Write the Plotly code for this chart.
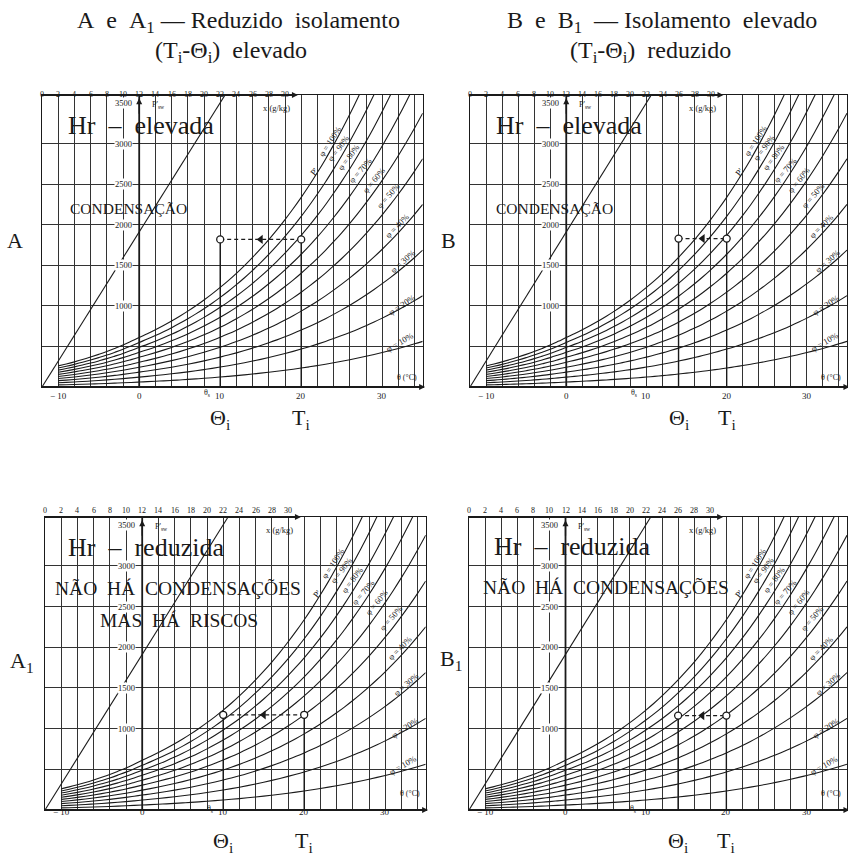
import plotly.graph_objects as go

# ---------------- data ----------------
theta_c = [-10, -9, -8, -7, -6, -5, -4, -3, -2, -1, 0, 1, 2, 3, 4, 5, 6, 7, 8, 9, 10,
           11, 12, 13, 14, 15, 16, 17, 18, 19, 20, 21, 22, 23, 24, 25, 26, 27, 28,
           29, 30, 31, 32, 33, 34, 35]
p_sat = [260, 284, 310, 338, 369, 402, 437, 476, 517, 563, 611, 657, 706, 758, 813,
         872, 935, 1002, 1073, 1148, 1228, 1312, 1402, 1497, 1598, 1705, 1818, 1937,
         2064, 2197, 2338, 2487, 2644, 2809, 2985, 3169, 3363, 3567, 3782, 4008, 4246,
         4495, 4758, 5034, 5323, 5627]
phi_pct = [100, 90, 80, 70, 60, 50, 40, 30, 20, 10]
phi_labels = ["φ = 100%", "φ = 90%", "φ = 80%", "φ = 70%", "φ = 60%",
              "φ = 50%", "φ = 40%", "φ = 30%", "φ = 20%", "φ = 10%"]
mix_P = [0, 3600]          # Pa
mix_x = [0, 22.6]          # g/kg  (x scale starts at theta = -12)
x_ticks_gkg = [0, 2, 4, 6, 8, 10, 12, 14, 16, 18, 20, 22, 24, 26, 28, 30]
theta_ticks = [-10, 0, 10, 20, 30]
p_ticks = [1000, 1500, 2000, 2500, 3000, 3500]

# state points per panel: (Theta_i, T_i, P)
panel_names = ["A", "B", "A1", "B1"]
theta_i = [10, 14, 10, 14]
t_i = [20, 20, 20, 20]
p_state = [1820, 1830, 1170, 1160]

W, H = 848, 856
SERIF = "Liberation Serif, Times New Roman, DejaVu Serif, serif"
INK = "#1a1a1a"


def px(x):
    return x / W


def py(y):
    return 1 - y / H


# panel geometry in pixels: (x0, x1, ytop, ybottom)
geo = [(42, 422.7, 95, 387), (470, 847, 95, 387),
       (45, 425.7, 517, 810), (469, 847, 517, 810)]
XR = [-12, 35]
YR = [0, 3600]

fig = go.Figure()
annotations = []
shapes = []

rh_lab_pos = [(23.6, 3030, -57), (24.6, 2950, -53), (25.9, 2830, -53), (27.3, 2680, -49),
              (29.0, 2550, -51), (30.7, 2360, -49), (31.8, 1990, -45), (32.6, 1550, -42),
              (32.4, 1010, -33), (32.2, 550, -30)]

for k in range(4):
    x0, x1, yt, yb = geo[k]
    xa = "xaxis" if k == 0 else f"xaxis{k+1}"
    ya = "yaxis" if k == 0 else f"yaxis{k+1}"
    xr = "x" if k == 0 else f"x{k+1}"
    yr = "y" if k == 0 else f"y{k+1}"
    fig.layout[xa] = dict(domain=[px(x0), px(x1)], range=XR, anchor=yr,
                          tickmode="linear", tick0=-12, dtick=2, showticklabels=False,
                          ticks="", showgrid=True, gridcolor="#333333", gridwidth=0.9,
                          zeroline=False, showline=True, linecolor=INK, linewidth=1.3,
                          mirror=True, fixedrange=True)
    fig.layout[ya] = dict(domain=[py(yb), py(yt)], range=YR, anchor=xr,
                          tickmode="array", tickvals=[500, 1000, 1500, 2000, 2500, 3000],
                          showticklabels=False, ticks="", showgrid=True,
                          gridcolor="#333333", gridwidth=0.9, zeroline=False,
                          showline=True, linecolor=INK, linewidth=1.3, mirror=True,
                          fixedrange=True)

    # relative humidity curves
    for f in phi_pct:
        fig.add_trace(go.Scatter(x=theta_c, y=[f / 100 * p for p in p_sat], mode="lines",
                                 line=dict(color=INK, width=1.1, shape="spline"),
                                 xaxis=xr, yaxis=yr, hoverinfo="skip", showlegend=False))
    # mixing ratio line
    fig.add_trace(go.Scatter(x=[-12 + v for v in mix_x], y=mix_P, mode="lines",
                             line=dict(color=INK, width=1.1), xaxis=xr, yaxis=yr,
                             hoverinfo="skip", showlegend=False))
    # P axis at theta = 0 (thicker)
    shapes.append(dict(type="line", xref=xr, yref=yr, x0=0, x1=0, y0=0, y1=3600,
                       line=dict(color=INK, width=1.8)))
    # top x (g/kg) axis line
    shapes.append(dict(type="line", xref=xr, yref=yr, x0=-12, x1=19.2, y0=3600, y1=3600,
                       line=dict(color=INK, width=2.2)))
    annotations.append(dict(x=19.6, y=3600, ax=17.5, ay=3600, xref=xr, yref=yr,
                            axref=xr, ayref=yr, text="", showarrow=True, arrowhead=2,
                            arrowsize=1, arrowwidth=1.2, arrowcolor=INK))
    # bottom axis
    shapes.append(dict(type="line", xref=xr, yref=yr, x0=-12, x1=35, y0=0, y1=0,
                       line=dict(color=INK, width=1.8)))
    annotations.append(dict(x=35.3, y=0, ax=33.5, ay=0, xref=xr, yref=yr,
                            axref=xr, ayref=yr, text="", showarrow=True, arrowhead=2,
                            arrowsize=1, arrowwidth=1.2, arrowcolor=INK))
    # P axis arrow
    annotations.append(dict(x=0, y=3560, ax=0, ay=3350, xref=xr, yref=yr,
                            axref=xr, ayref=yr, text="", showarrow=True, arrowhead=2,
                            arrowsize=1, arrowwidth=1.2, arrowcolor=INK))

    # state points
    th, tt, pp = theta_i[k], t_i[k], p_state[k]
    fig.add_trace(go.Scatter(x=[th, th, None, tt, tt], y=[0, pp, None, 0, pp], mode="lines",
                             line=dict(color=INK, width=1.4), xaxis=xr, yaxis=yr,
                             hoverinfo="skip", showlegend=False))
    fig.add_trace(go.Scatter(x=[th, tt], y=[pp, pp], mode="lines",
                             line=dict(color=INK, width=1.2, dash="4px,3px"),
                             xaxis=xr, yaxis=yr, hoverinfo="skip", showlegend=False))
    fig.add_trace(go.Scatter(x=[(th + tt) / 2], y=[pp], mode="markers",
                             marker=dict(symbol="triangle-left", size=8, color=INK),
                             xaxis=xr, yaxis=yr, hoverinfo="skip", showlegend=False))
    fig.add_trace(go.Scatter(x=[th, tt], y=[pp, pp], mode="markers",
                             marker=dict(symbol="circle", size=7, color="white",
                                         line=dict(color=INK, width=1.3)),
                             xaxis=xr, yaxis=yr, hoverinfo="skip", showlegend=False))

    # RH labels
    for (lx, ly, ang), lab in zip(rh_lab_pos, phi_labels):
        annotations.append(dict(x=lx, y=ly, xref=xr, yref=yr, text=lab, showarrow=False,
                                textangle=ang, font=dict(family=SERIF, size=8.5, color=INK)))
    annotations.append(dict(x=21.6, y=2650, xref=xr, yref=yr, text="P'", showarrow=False,
                            textangle=-50, font=dict(family=SERIF, size=9, color=INK)))

    # P tick labels
    for v in p_ticks:
        annotations.append(dict(x=-2.0, y=v, xref=xr, yref=yr,
                                text=str(v), showarrow=False, bgcolor="white",
                                borderpad=0, font=dict(family=SERIF, size=8.5, color=INK)))
    annotations.append(dict(x=2.4, y=3480, xref=xr, yref=yr, text="P'<sub>sw</sub>",
                            showarrow=False, font=dict(family=SERIF, size=8, color=INK)))
    annotations.append(dict(x=17.0, y=3440, xref=xr, yref=yr, text="x (g/kg)",
                            showarrow=False, font=dict(family=SERIF, size=8.5, color=INK)))
    # top x ticks
    for v in x_ticks_gkg:
        annotations.append(dict(x=-12 + v, y=py(yt - 7), xref=xr, yref="paper",
                                text=str(v), showarrow=False,
                                font=dict(family=SERIF, size=8, color=INK)))
    # bottom theta ticks
    for v in theta_ticks:
        annotations.append(dict(x=v, y=py(yb + 9), xref=xr, yref="paper",
                                text=("\u2212 10" if v < 0 else str(v)), showarrow=False,
                                font=dict(family=SERIF, size=9, color=INK)))
    annotations.append(dict(x=8.4, y=py(yb + 6), xref=xr, yref="paper",
                            text="θ<sub>s</sub>", showarrow=False,
                            font=dict(family=SERIF, size=8, color=INK)))
    annotations.append(dict(x=33.0, y=py(yb - 10), xref=xr, yref="paper",
                            text="θ (°C)", showarrow=False,
                            font=dict(family=SERIF, size=8, color=INK)))
    # Theta_i and T_i big labels
    annotations.append(dict(x=th, y=py(yb + 16), xref=xr, yref="paper", yanchor="top",
                            text="Θ<sub>i</sub>", showarrow=False,
                            font=dict(family=SERIF, size=22, color=INK)))
    annotations.append(dict(x=tt, y=py(yb + 16), xref=xr, yref="paper", yanchor="top",
                            text="T<sub>i</sub>", showarrow=False,
                            font=dict(family=SERIF, size=22, color=INK)))

fig.update_layout(shapes=shapes)

NB = "\u00a0"


def txt(x, y, s, size, anchor="center"):
    annotations.append(dict(x=px(x), y=py(y), xref="paper", yref="paper", text=s,
                            showarrow=False, xanchor=anchor, yanchor="middle",
                            font=dict(family=SERIF, size=size, color=INK)))


# titles
txt(238, 22, f"A{NB}{NB}e{NB}{NB}A<sub>1</sub>{NB}— Reduzido{NB}{NB}isolamento", 24)
txt(231, 52, f"(T<sub>i</sub>-Θ<sub>i</sub>){NB}{NB}elevado", 24)
txt(662, 22, f"B{NB}{NB}e{NB}{NB}B<sub>1</sub>{NB}{NB}—{NB}Isolamento{NB}{NB}elevado", 24)
txt(650, 52, f"(T<sub>i</sub>-Θ<sub>i</sub>){NB}{NB}reduzido", 24)

# panel letters
txt(15, 240, "A", 22)
txt(449, 240, "B", 22)
txt(22, 662, "A<sub>1</sub>", 22)
txt(451, 660, "B<sub>1</sub>", 22)

# in-panel statements
txt(66, 125, f"Hr{NB}{NB}–{NB}{NB}elevada", 26, "left")
txt(494, 125, f"Hr{NB}{NB}–{NB}{NB}elevada", 26, "left")
txt(68, 208, "CONDENSAÇÃO", 15.5, "left")
txt(494, 208, "CONDENSAÇÃO", 15.5, "left")
txt(66, 547, f"Hr{NB}{NB}–{NB}{NB}reduzida", 26, "left")
txt(492, 546, f"Hr{NB}{NB}–{NB}{NB}reduzida", 26, "left")
txt(53, 588, f"NÃO{NB}{NB}HÁ{NB}{NB}CONDENSAÇÕES", 19.5, "left")
txt(98, 620, f"MAS{NB}{NB}HÁ{NB}{NB}RISCOS", 19.5, "left")
txt(481, 587, f"NÃO{NB}{NB}HÁ{NB}{NB}CONDENSAÇÕES", 19.5, "left")

fig.update_layout(annotations=annotations, width=W, height=H,
                  margin=dict(l=0, r=0, t=0, b=0), paper_bgcolor="white",
                  plot_bgcolor="white", showlegend=False)
fig.write_html("out.html", config={"displayModeBar": False},
               post_script="document.body.style.margin='0';document.body.style.overflow='hidden';")
